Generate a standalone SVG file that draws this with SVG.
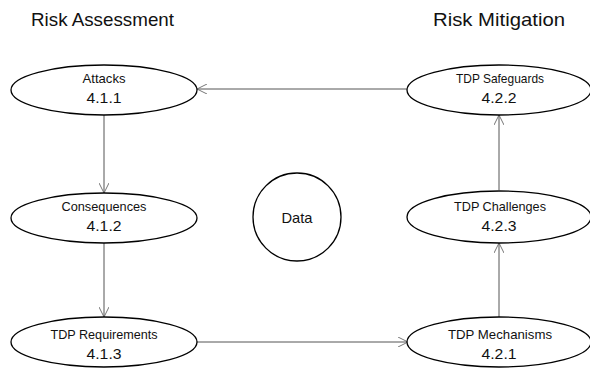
<svg xmlns="http://www.w3.org/2000/svg" width="590" height="369" viewBox="0 0 590 369">
  <defs>
    <marker id="open" viewBox="0 0 10 10" refX="10" refY="5" markerWidth="10" markerHeight="10" markerUnits="userSpaceOnUse" orient="auto">
      <path d="M0,0 L10,5 L0,10" fill="none" stroke="#666" stroke-width="0.9"/>
    </marker>
  </defs>
  <style>
    .node ellipse, .node circle { fill: #fff; stroke: #000; stroke-width: 1.3; }
    .title { font-family: "Liberation Sans", Arial, sans-serif; font-size: 19px; fill: #111; }
    .lbl { font-family: "Liberation Sans", Arial, sans-serif; font-size: 13.5px; fill: #111; text-anchor: middle; }
    .num { font-family: "Liberation Sans", Arial, sans-serif; font-size: 14.5px; fill: #111; text-anchor: middle; }
    .edge { stroke: #555; stroke-width: 1; fill: none; marker-end: url(#open); }
  </style>
  <rect width="590" height="369" fill="#fff"/>

  <text class="title" x="31" y="26" textLength="143" lengthAdjust="spacingAndGlyphs">Risk Assessment</text>
  <text class="title" x="433" y="26" textLength="132" lengthAdjust="spacingAndGlyphs">Risk Mitigation</text>

  <g id="connectors">
    <line class="edge" x1="104" y1="115" x2="104" y2="193"/>
    <line class="edge" x1="104" y1="243" x2="104" y2="317"/>
    <line class="edge" x1="197" y1="342" x2="408" y2="342"/>
    <line class="edge" x1="499" y1="317" x2="499" y2="243"/>
    <line class="edge" x1="499" y1="190" x2="499" y2="115"/>
    <line class="edge" x1="407" y1="89" x2="197" y2="89"/>
  </g>

  <g id="attacks" class="node">
    <ellipse cx="104" cy="90" rx="93" ry="25"/>
    <text class="lbl" x="104" y="83" textLength="43" lengthAdjust="spacingAndGlyphs">Attacks</text>
    <text class="num" x="104" y="103" textLength="35" lengthAdjust="spacingAndGlyphs">4.1.1</text>
  </g>
  <g id="consequences" class="node">
    <ellipse cx="104" cy="218" rx="93" ry="25"/>
    <text class="lbl" x="104" y="211" textLength="85" lengthAdjust="spacingAndGlyphs">Consequences</text>
    <text class="num" x="104" y="231" textLength="35" lengthAdjust="spacingAndGlyphs">4.1.2</text>
  </g>
  <g id="requirements" class="node">
    <ellipse cx="104" cy="342" rx="93" ry="25"/>
    <text class="lbl" x="104" y="339" textLength="107" lengthAdjust="spacingAndGlyphs">TDP Requirements</text>
    <text class="num" x="104" y="359" textLength="35" lengthAdjust="spacingAndGlyphs">4.1.3</text>
  </g>
  <g id="data" class="node">
    <circle cx="297" cy="217" r="44"/>
    <text class="lbl" x="297" y="223" style="font-size:15px" textLength="31" lengthAdjust="spacingAndGlyphs">Data</text>
  </g>
  <g id="safeguards" class="node">
    <ellipse cx="499" cy="90" rx="92" ry="25"/>
    <text class="lbl" x="500" y="83" textLength="88" lengthAdjust="spacingAndGlyphs">TDP Safeguards</text>
    <text class="num" x="499" y="103" textLength="35" lengthAdjust="spacingAndGlyphs">4.2.2</text>
  </g>
  <g id="challenges" class="node">
    <ellipse cx="499" cy="217" rx="92" ry="26"/>
    <text class="lbl" x="500" y="211" textLength="92" lengthAdjust="spacingAndGlyphs">TDP Challenges</text>
    <text class="num" x="499" y="231" textLength="35" lengthAdjust="spacingAndGlyphs">4.2.3</text>
  </g>
  <g id="mechanisms" class="node">
    <ellipse cx="499" cy="342" rx="92" ry="25"/>
    <text class="lbl" x="500" y="339" textLength="104" lengthAdjust="spacingAndGlyphs">TDP Mechanisms</text>
    <text class="num" x="499" y="359" textLength="35" lengthAdjust="spacingAndGlyphs">4.2.1</text>
  </g>
</svg>
